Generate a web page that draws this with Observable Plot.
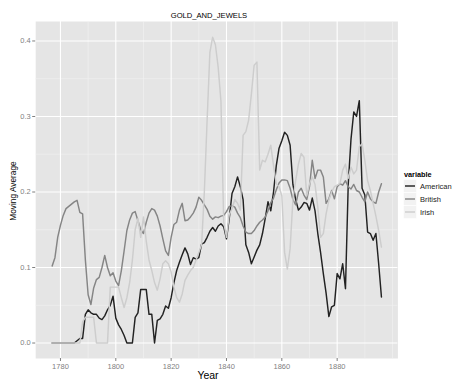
<!DOCTYPE html>
<html><head><meta charset="utf-8">
<script src="https://cdn.jsdelivr.net/npm/d3@7"></script>
<script src="https://cdn.jsdelivr.net/npm/@observablehq/plot@0.6"></script>
<style>
html,body{margin:0;padding:0;background:#fff;}
#wrap{position:relative;width:460px;height:388px;font-family:"Liberation Sans",Arial,sans-serif;}
#wrap > svg{position:absolute;left:0;top:0;}
</style></head><body><div id="wrap"></div>
<script>
const startYear = 1777;
const seriesNames = ["American", "British", "Irish"];
const american = [
  0,0,0,0,0,0,0,0,0,
  0.003,0.006,0.006,0.038,0.044,0.04,0.038,0.038,0.033,0.031,
  0.036,0.044,0.05,0.062,0.033,0.024,0.018,0.01,0,0,
  0,0.034,0.04,0.071,0.071,0.071,0.038,0.038,0,0.03,
  0.032,0.038,0.049,0.046,0.06,0.08,0.096,0.107,0.117,0.126,
  0.118,0.104,0.113,0.111,0.113,0.131,0.133,0.14,0.148,0.153,
  0.148,0.155,0.158,0.154,0.138,0.165,0.198,0.207,0.22,0.207,
  0.19,0.13,0.12,0.105,0.114,0.123,0.13,0.145,0.165,0.187,
  0.175,0.2,0.235,0.258,0.268,0.279,0.275,0.262,0.21,0.19,
  0.176,0.18,0.186,0.185,0.176,0.192,0.175,0.145,0.12,0.092,
  0.066,0.035,0.048,0.05,0.092,0.085,0.105,0.072,0.21,0.27,
  0.306,0.3,0.321,0.205,0.196,0.147,0.145,0.136,0.145,0.105,0.061
];
const british = [
  0.102,0.113,0.14,0.156,0.169,0.178,0.181,0.184,0.187,0.189,
  0.173,0.171,0.11,0.064,0.051,0.073,0.084,0.087,0.1,0.116,
  0.1,0.089,0.093,0.082,0.076,0.096,0.122,0.149,0.163,0.172,
  0.174,0.162,0.15,0.145,0.16,0.172,0.178,0.176,0.168,0.155,
  0.138,0.122,0.116,0.14,0.157,0.16,0.176,0.185,0.162,0.163,
  0.167,0.172,0.18,0.193,0.189,0.183,0.177,0.168,0.164,0.167,
  0.166,0.168,0.169,0.174,0.181,0.182,0.18,0.172,0.166,0.155,
  0.147,0.145,0.145,0.149,0.155,0.16,0.163,0.167,0.175,0.186,
  0.192,0.203,0.212,0.216,0.216,0.215,0.205,0.19,0.183,0.2,
  0.205,0.196,0.19,0.207,0.242,0.218,0.229,0.229,0.22,0.185,
  0.191,0.202,0.191,0.207,0.211,0.209,0.215,0.207,0.204,0.21,
  0.202,0.2,0.193,0.187,0.2,0.191,0.187,0.185,0.2,0.211
];
const irish = [
  0,0,0,0,0,0,0,0,0,0,
  0,0.028,0.034,0.034,0.034,0.034,0,0,0,0,
  0,0.074,0.074,0.074,0.074,0.06,0.047,0.06,0.08,0.11,
  0.15,0.165,0.14,0.167,0.135,0.11,0.096,0.08,0.07,0.085,
  0.105,0.109,0.105,0.094,0.074,0.06,0.054,0.065,0.083,0.09,
  0.096,0.1,0.11,0.12,0.13,0.2,0.295,0.385,0.405,0.395,
  0.365,0.32,0.16,0.14,0.17,0.178,0.19,0.185,0.176,0.275,
  0.28,0.295,0.33,0.368,0.372,0.229,0.242,0.24,0.25,0.262,
  0.235,0.211,0.207,0.195,0.12,0.098,0.125,0.19,0.215,0.237,
  0.251,0.246,0.195,0.211,0.22,0.21,0.18,0.14,0.145,0.171,
  0.189,0.2,0.207,0.209,0.211,0.229,0.237,0.218,0.233,0.224,
  0.229,0.26,0.264,0.242,0.215,0.202,0.185,0.168,0.149,0.127
];
const xTicks = [1780, 1800, 1820, 1840, 1860, 1880];
const xMinor = [1790, 1810, 1830, 1850, 1870, 1890, 1900];
const yTicks = [0, 0.1, 0.2, 0.3, 0.4];
const yMinor = [0.05, 0.15, 0.25, 0.35];
const lineColors = ["#222222", "#858585", "#cdcdcd"];
const titleText = "GOLD_AND_JEWELS";
const xTitle = "Year";
const yTitle = "Moving Average";
const legendTitle = "variable";

const rows = [];
[american, british, irish].forEach((arr, i) =>
  arr.forEach((v, j) => rows.push({series: seriesNames[i], year: startYear + j, value: v})));

const chart = Plot.plot({
  width: 460, height: 388,
  marginLeft: 35.2, marginRight: 62.6, marginTop: 21, marginBottom: 30,
  style: {fontFamily: "'Liberation Sans', Arial, sans-serif", background: "transparent", overflow: "visible"},
  x: {domain: [1771.05, 1901.95]},
  y: {domain: [-0.0205, 0.4258]},
  color: {domain: seriesNames, range: lineColors},
  marks: [
    Plot.frame({fill: "#e5e5e5", stroke: "none"}),
    Plot.gridX(xMinor, {stroke: "#f2f2f2", strokeOpacity: 1, strokeWidth: 0.6}),
    Plot.gridY(yMinor, {stroke: "#f2f2f2", strokeOpacity: 1, strokeWidth: 0.6}),
    Plot.gridX(xTicks, {stroke: "#ffffff", strokeOpacity: 1, strokeWidth: 1.1}),
    Plot.gridY(yTicks, {stroke: "#ffffff", strokeOpacity: 1, strokeWidth: 1.1}),
    Plot.line(rows, {x: "year", y: "value", z: "series", stroke: "series", strokeWidth: 1.45}),
    Plot.axisX(xTicks, {tickSize: 3, tickPadding: 2, fontSize: 7.5, color: "#7f7f7f", label: null, tickFormat: d3.format("d")}),
    Plot.axisY(yTicks, {tickSize: 3, tickPadding: 2, fontSize: 7.5, color: "#7f7f7f", label: null, tickFormat: d3.format(".1f")})
  ]
});
const wrap = document.getElementById("wrap");
wrap.appendChild(chart);

// overlay: title, axis titles, legend
const ov = d3.select(wrap).append("svg").attr("width", 460).attr("height", 388)
  .attr("font-family", "'Liberation Sans', Arial, sans-serif").style("pointer-events", "none");
ov.append("text").attr("x", 209).attr("y", 18.3).attr("text-anchor", "middle").attr("font-size", 7.6).attr("fill", "#000").text(titleText);
ov.append("text").attr("x", 208).attr("y", 379).attr("text-anchor", "middle").attr("font-size", 10.5).attr("fill", "#000").text(xTitle);
ov.append("text").attr("transform", "translate(16,191) rotate(-90)").attr("text-anchor", "middle").attr("font-size", 8.3).attr("fill", "#000").text(yTitle);
ov.append("text").attr("x", 404).attr("y", 176.5).attr("font-size", 7.3).attr("font-weight", "bold").attr("fill", "#000").text(legendTitle);
seriesNames.forEach((name, i) => {
  const cy = 186 + i * 13;
  ov.append("rect").attr("x", 403.5).attr("y", cy - 6.5).attr("width", 13).attr("height", 13).attr("fill", "#f2f2f2").attr("stroke", "#fff").attr("stroke-width", 0.6);
  ov.append("line").attr("x1", 405).attr("x2", 415).attr("y1", cy).attr("y2", cy).attr("stroke", lineColors[i]).attr("stroke-width", 1.45);
  ov.append("text").attr("x", 420).attr("y", cy + 2.7).attr("font-size", 7.5).attr("fill", "#222").text(name);
});
</script>
</body></html>
